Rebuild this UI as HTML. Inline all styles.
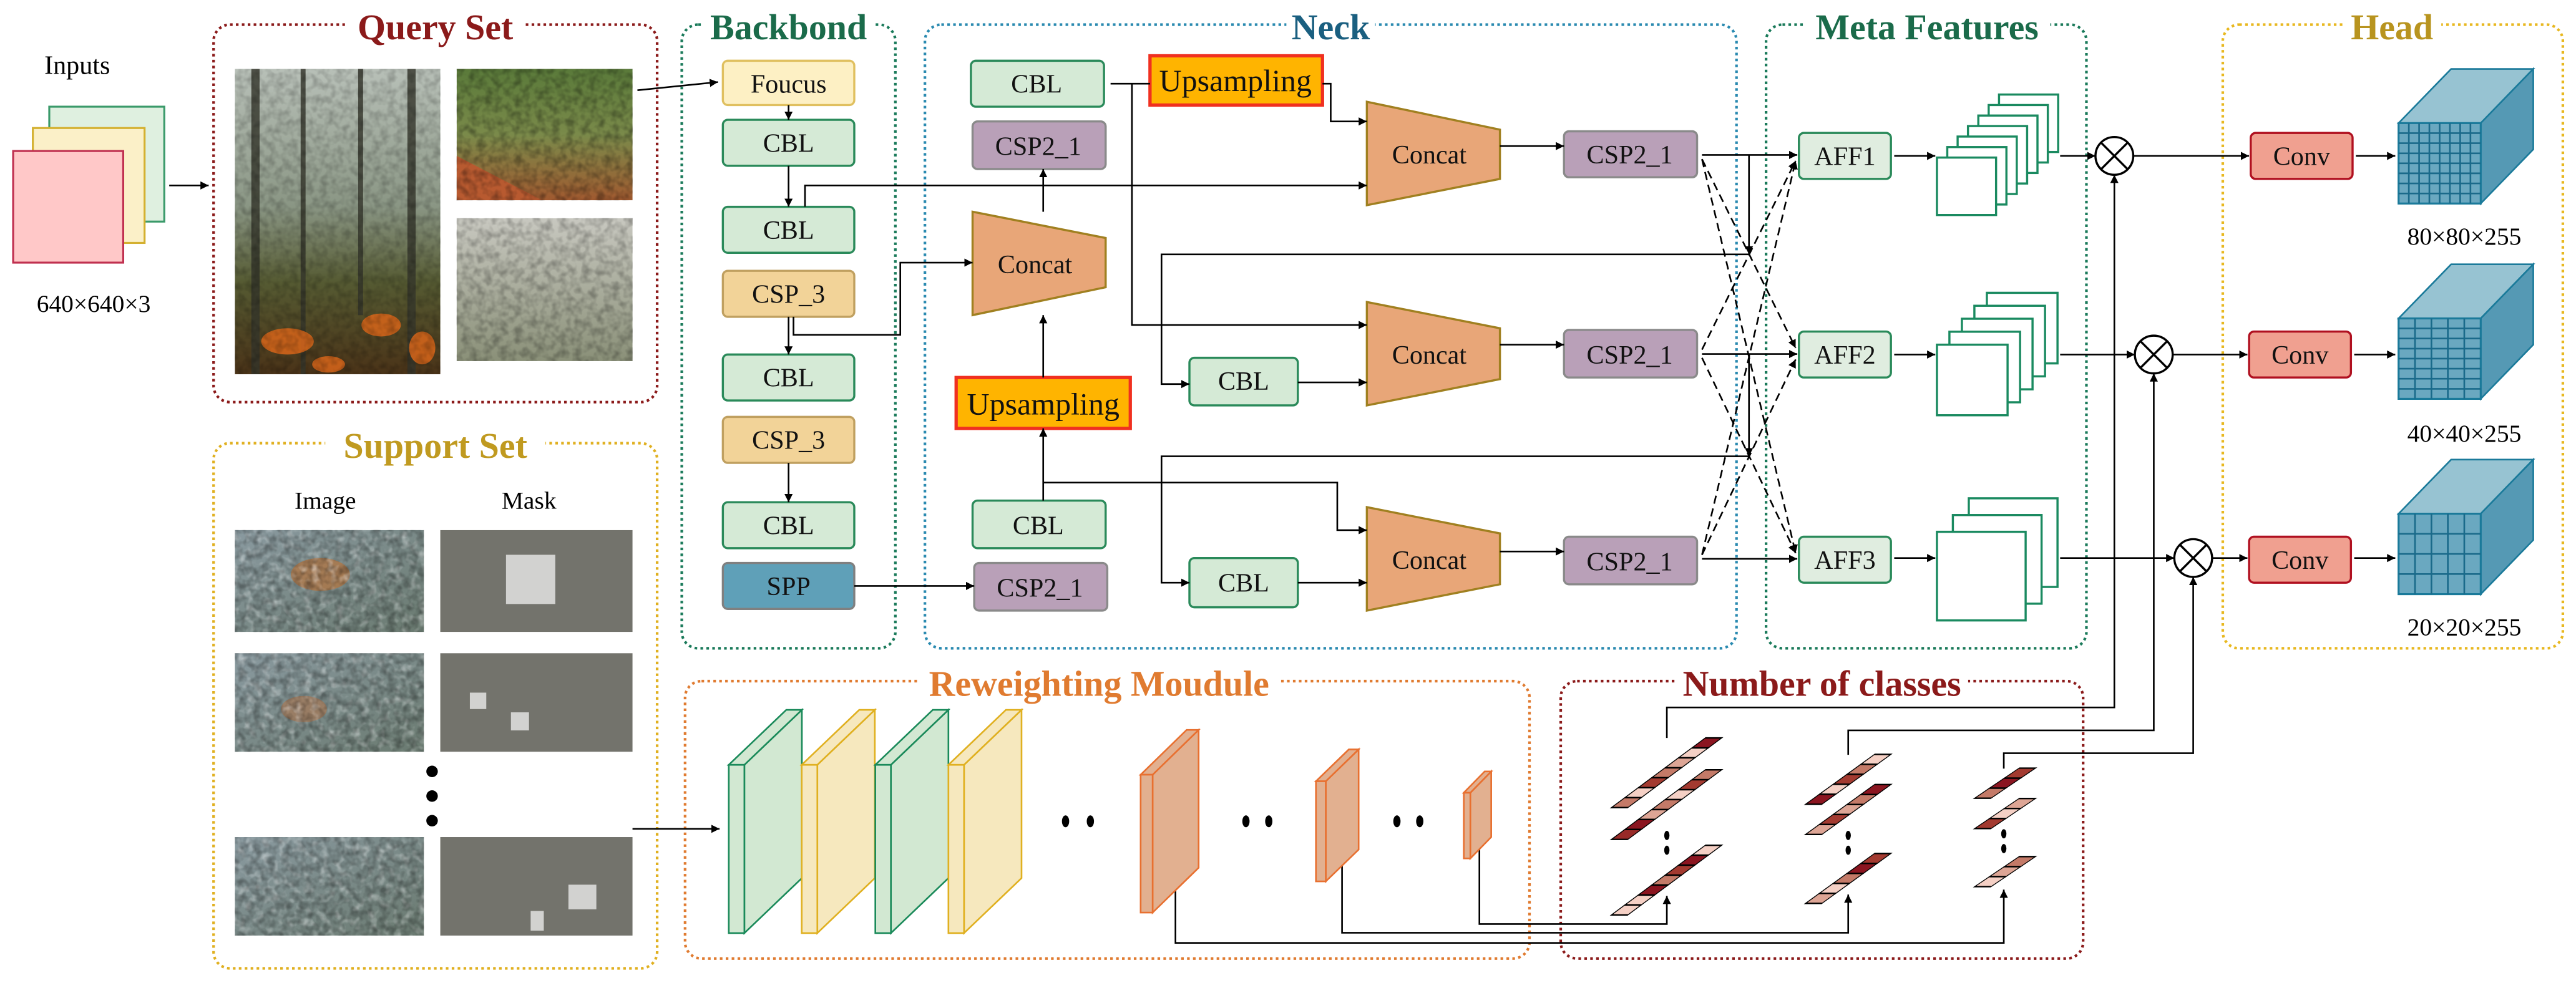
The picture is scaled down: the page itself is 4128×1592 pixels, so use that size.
<!DOCTYPE html>
<html><head><meta charset="utf-8">
<style>
html,body{margin:0;padding:0;background:#fff;}
svg{display:block;}
text{font-family:"Liberation Serif",serif;}
.lb{font-family:"Liberation Serif",serif;font-size:16px;text-anchor:middle;fill:#111;}
.tt{font-family:"Liberation Serif",serif;font-size:22px;font-weight:bold;text-anchor:middle;}
.sm{font-family:"Liberation Serif",serif;font-size:15px;text-anchor:middle;}
</style></head>
<body>
<svg xmlns="http://www.w3.org/2000/svg" width="4128" height="1592" viewBox="0 0 1568 605" preserveAspectRatio="none" font-family="Liberation Serif, serif">
<defs>
<marker id="a" viewBox="0 0 10 10" refX="10" refY="5" markerWidth="5" markerHeight="5" markerUnits="userSpaceOnUse" orient="auto"><path d="M0,0L10,5L0,10z" fill="#000"/></marker>
<filter id="nz" x="0" y="0" width="100%" height="100%">
<feTurbulence type="fractalNoise" baseFrequency="0.22" numOctaves="2" seed="3"/>
<feColorMatrix type="matrix" values="0 0 0 0 0  0 0 0 0 0  0 0 0 0 0  0 0 0 -2.2 1.4"/>
</filter>
<filter id="nzw" x="0" y="0" width="100%" height="100%">
<feTurbulence type="fractalNoise" baseFrequency="0.2" numOctaves="2" seed="9"/>
<feColorMatrix type="matrix" values="0 0 0 0 1  0 0 0 0 1  0 0 0 0 1  0 0 0 -2.5 1.3"/>
</filter>
<linearGradient id="gF" x1="0" y1="0" x2="0" y2="1">
<stop offset="0" stop-color="#b8c0b8"/><stop offset="0.45" stop-color="#8a9684"/><stop offset="0.7" stop-color="#555a32"/><stop offset="1" stop-color="#4a3318"/>
</linearGradient>
<linearGradient id="gS1" x1="0" y1="0" x2="0" y2="1">
<stop offset="0" stop-color="#5a7a3a"/><stop offset="0.5" stop-color="#7a8a4a"/><stop offset="1" stop-color="#a05a30"/>
</linearGradient>
<linearGradient id="gS2" x1="0" y1="0" x2="0" y2="1">
<stop offset="0" stop-color="#c8c8c0"/><stop offset="1" stop-color="#8a9078"/>
</linearGradient>
<linearGradient id="gB" x1="0" y1="0" x2="1" y2="1">
<stop offset="0" stop-color="#8a9aa0"/><stop offset="1" stop-color="#6a7a70"/>
</linearGradient>
</defs>
<rect width="1568" height="605" fill="#fff"/>

<!-- Inputs -->
<text class="sm" x="47" y="45" style="font-size:16px">Inputs</text>
<rect x="30" y="65" width="70" height="70" fill="#dff0e0" stroke="#3a9a6a" stroke-width="1.2"/>
<rect x="20" y="78" width="68" height="70" fill="#fbf0c8" stroke="#d4b030" stroke-width="1.2"/>
<rect x="8" y="92" width="67" height="68" fill="#ffc8c8" stroke="#c03050" stroke-width="1.2"/>
<text class="sm" x="57" y="190">640×640×3</text>
<line x1="103" y1="113" x2="127" y2="113" stroke="#000" marker-end="url(#a)"/>

<!-- Group boxes -->
<g fill="none" stroke-width="1.6" stroke-dasharray="1.6 2">
<rect x="130" y="15" width="270" height="230" rx="10" stroke="#8b1a1a"/>
<rect x="130" y="270" width="270" height="320" rx="10" stroke="#e0b020"/>
<rect x="415" y="15" width="130" height="380" rx="10" stroke="#1a7a5a"/>
<rect x="563" y="15" width="494" height="380" rx="10" stroke="#2a8ab0"/>
<rect x="1075" y="15" width="195" height="380" rx="10" stroke="#1a7a5a"/>
<rect x="1353" y="15" width="207" height="380" rx="10" stroke="#e8b820"/>
<rect x="417" y="415" width="514" height="169" rx="10" stroke="#e07b30"/>
<rect x="950" y="415" width="318" height="169" rx="10" stroke="#8b1a1a"/>
</g>
<g fill="#fff">
<rect x="210" y="3" width="110" height="24"/>
<rect x="198" y="258" width="134" height="24"/>
<rect x="428" y="3" width="104" height="24"/>
<rect x="783" y="3" width="54" height="24"/>
<rect x="1098" y="3" width="150" height="24"/>
<rect x="1426" y="3" width="60" height="24"/>
<rect x="560" y="403" width="218" height="24"/>
<rect x="1020" y="403" width="178" height="24"/>
</g>
<text class="tt" x="265" y="24" fill="#8b1a1a">Query Set</text>
<text class="tt" x="265" y="279" fill="#c09a20">Support Set</text>
<text class="tt" x="480" y="24" fill="#1a6b4a">Backbond</text>
<text class="tt" x="810" y="24" fill="#1a5f80">Neck</text>
<text class="tt" x="1173" y="24" fill="#1a6b4a">Meta Features</text>
<text class="tt" x="1456" y="24" fill="#b8941f">Head</text>
<text class="tt" x="669" y="424" fill="#e07b30">Reweighting Moudule</text>
<text class="tt" x="1109" y="424" fill="#8b1a1a">Number of classes</text>

<!-- Query images -->
<rect x="143" y="42" width="125" height="186" fill="url(#gF)"/>
<g fill="#33342a" opacity="0.8">
<rect x="153" y="42" width="5" height="186"/><rect x="183" y="42" width="3" height="186"/>
<rect x="218" y="42" width="3" height="150"/><rect x="248" y="42" width="5" height="186"/>
</g>
<g fill="#d8661a" opacity="0.85">
<ellipse cx="175" cy="208" rx="16" ry="8"/><ellipse cx="232" cy="198" rx="12" ry="7"/><ellipse cx="257" cy="212" rx="8" ry="10"/><ellipse cx="200" cy="222" rx="10" ry="5"/>
</g>
<rect x="143" y="42" width="125" height="186" filter="url(#nz)" opacity="0.2"/>
<rect x="278" y="42" width="107" height="80" fill="url(#gS1)"/>
<polygon points="278,95 330,122 278,122" fill="#b85a30"/>
<rect x="278" y="42" width="107" height="80" filter="url(#nz)" opacity="0.3"/>
<rect x="278" y="133" width="107" height="87" fill="url(#gS2)"/>
<rect x="278" y="133" width="107" height="87" filter="url(#nz)" opacity="0.25"/>

<!-- Support images -->
<rect x="143" y="323" width="115" height="62" fill="url(#gB)"/>
<ellipse cx="195" cy="350" rx="18" ry="10" fill="#c07030" opacity="0.6"/>
<rect x="143" y="323" width="115" height="62" filter="url(#nzw)" opacity="0.4"/>
<rect x="143" y="323" width="115" height="62" filter="url(#nz)" opacity="0.3"/>
<rect x="143" y="398" width="115" height="60" fill="url(#gB)"/>
<ellipse cx="185" cy="432" rx="14" ry="8" fill="#b87040" opacity="0.5"/>
<rect x="143" y="398" width="115" height="60" filter="url(#nzw)" opacity="0.4"/>
<rect x="143" y="398" width="115" height="60" filter="url(#nz)" opacity="0.3"/>
<rect x="143" y="510" width="115" height="60" fill="url(#gB)"/>
<rect x="143" y="510" width="115" height="60" filter="url(#nzw)" opacity="0.4"/>
<rect x="143" y="510" width="115" height="60" filter="url(#nz)" opacity="0.3"/>

<text class="sm" x="198" y="310">Image</text>
<text class="sm" x="322" y="310">Mask</text>
<rect x="268" y="323" width="117" height="62" fill="#73736c"/>
<rect x="308" y="338" width="30" height="30" fill="#d2d2d0"/>
<rect x="268" y="398" width="117" height="60" fill="#73736c"/>
<rect x="286" y="422" width="10" height="10" fill="#d2d2d0"/>
<rect x="311" y="434" width="11" height="11" fill="#d2d2d0"/>
<rect x="268" y="510" width="117" height="60" fill="#73736c"/>
<rect x="346" y="539" width="17" height="15" fill="#d2d2d0"/>
<rect x="323" y="555" width="8" height="12" fill="#d2d2d0"/>
<circle cx="263" cy="470" r="3.5" fill="#000"/>
<circle cx="263" cy="485" r="3.5" fill="#000"/>
<circle cx="263" cy="500" r="3.5" fill="#000"/>
<polyline points="388,55 437,50" fill="none" stroke="#000" marker-end="url(#a)"/>
<line x1="385" y1="505" x2="438" y2="505" stroke="#000" marker-end="url(#a)"/>

<!-- Backbond -->
<g stroke-width="1.3">
<rect x="440" y="37" width="80" height="27" rx="3" fill="#fdf0c4" stroke="#e0c060"/>
<rect x="440" y="73" width="80" height="28" rx="3" fill="#d5ead6" stroke="#2a8a5a"/>
<rect x="440" y="126" width="80" height="28" rx="3" fill="#d5ead6" stroke="#2a8a5a"/>
<rect x="440" y="165" width="80" height="28" rx="3" fill="#f2d398" stroke="#c0a060"/>
<rect x="440" y="216" width="80" height="28" rx="3" fill="#d5ead6" stroke="#2a8a5a"/>
<rect x="440" y="254" width="80" height="28" rx="3" fill="#f2d398" stroke="#c0a060"/>
<rect x="440" y="306" width="80" height="28" rx="3" fill="#d5ead6" stroke="#2a8a5a"/>
<rect x="440" y="343" width="80" height="28" rx="3" fill="#5fa0b8" stroke="#808080"/>
</g>
<g font-family="Liberation Serif, serif" font-size="16" text-anchor="middle" fill="#111">
<text x="480" y="56.5" style="font-family:'Liberation Serif',serif">Foucus</text>
<text x="480" y="92.5" style="font-family:'Liberation Serif',serif">CBL</text>
<text x="480" y="145.5" style="font-family:'Liberation Serif',serif">CBL</text>
<text x="480" y="184.5" style="font-family:'Liberation Serif',serif">CSP_3</text>
<text x="480" y="235.5" style="font-family:'Liberation Serif',serif">CBL</text>
<text x="480" y="273.5" style="font-family:'Liberation Serif',serif">CSP_3</text>
<text x="480" y="325.5" style="font-family:'Liberation Serif',serif">CBL</text>
<text x="480" y="362.5" style="font-family:'Liberation Serif',serif">SPP</text>
</g>

<!-- Neck -->
<g stroke-width="1.3">
<rect x="591" y="37" width="81" height="28" rx="3" fill="#d5ead6" stroke="#2a8a5a"/>
<rect x="592" y="74" width="81" height="29" rx="3" fill="#b9a0b8" stroke="#8a8a8a"/>
<rect x="700" y="34" width="105" height="30" fill="#ffb400" stroke="#f03020" stroke-width="2"/>
<polygon points="592,129 673,145 673,175 592,192" fill="#e8a678" stroke="#a08020"/>
<rect x="582" y="230" width="106" height="31" fill="#ffb400" stroke="#f03020" stroke-width="2"/>
<rect x="592" y="305" width="81" height="29" rx="3" fill="#d5ead6" stroke="#2a8a5a"/>
<rect x="593" y="343" width="81" height="29" rx="3" fill="#b9a0b8" stroke="#8a8a8a"/>
<polygon points="832,62 913,79 913,109 832,125" fill="#e8a678" stroke="#a08020"/>
<polygon points="832,184 913,200 913,231 832,247" fill="#e8a678" stroke="#a08020"/>
<polygon points="832,309 913,325 913,356 832,372" fill="#e8a678" stroke="#a08020"/>
<rect x="952" y="80" width="81" height="28" rx="3" fill="#b9a0b8" stroke="#8a8a8a"/>
<rect x="952" y="201" width="81" height="29" rx="3" fill="#b9a0b8" stroke="#8a8a8a"/>
<rect x="952" y="327" width="81" height="29" rx="3" fill="#b9a0b8" stroke="#8a8a8a"/>
<rect x="724" y="218" width="66" height="29" rx="3" fill="#d5ead6" stroke="#2a8a5a"/>
<rect x="724" y="340" width="66" height="30" rx="3" fill="#d5ead6" stroke="#2a8a5a"/>
</g>
<g font-family="Liberation Serif, serif" font-size="16" text-anchor="middle" fill="#111">
<text x="631" y="56.5" style="font-family:'Liberation Serif',serif">CBL</text>
<text x="632" y="94.5" style="font-family:'Liberation Serif',serif">CSP2_1</text>
<text x="752" y="55.5" style="font-family:'Liberation Serif',serif;font-size:19px">Upsampling</text>
<text x="630" y="166.5" style="font-family:'Liberation Serif',serif">Concat</text>
<text x="635" y="252.5" style="font-family:'Liberation Serif',serif;font-size:19px">Upsampling</text>
<text x="632" y="325.5" style="font-family:'Liberation Serif',serif">CBL</text>
<text x="633" y="363.5" style="font-family:'Liberation Serif',serif">CSP2_1</text>
<text x="870" y="99.5" style="font-family:'Liberation Serif',serif">Concat</text>
<text x="870" y="221.5" style="font-family:'Liberation Serif',serif">Concat</text>
<text x="870" y="346.5" style="font-family:'Liberation Serif',serif">Concat</text>
<text x="992" y="99.5" style="font-family:'Liberation Serif',serif">CSP2_1</text>
<text x="992" y="221.5" style="font-family:'Liberation Serif',serif">CSP2_1</text>
<text x="992" y="347.5" style="font-family:'Liberation Serif',serif">CSP2_1</text>
<text x="757" y="237.5" style="font-family:'Liberation Serif',serif">CBL</text>
<text x="757" y="360.5" style="font-family:'Liberation Serif',serif">CBL</text>
</g>

<!-- Meta -->
<g stroke-width="1.3">
<rect x="1095" y="81" width="56" height="28" rx="3" fill="#e0ede0" stroke="#2a8a5a"/>
<rect x="1095" y="202" width="56" height="28" rx="3" fill="#e0ede0" stroke="#2a8a5a"/>
<rect x="1095" y="327" width="56" height="28" rx="3" fill="#e0ede0" stroke="#2a8a5a"/>
</g>
<g font-family="Liberation Serif, serif" font-size="16" text-anchor="middle" fill="#111">
<text x="1123" y="100.5" style="font-family:'Liberation Serif',serif">AFF1</text>
<text x="1123" y="221.5" style="font-family:'Liberation Serif',serif">AFF2</text>
<text x="1123" y="346.5" style="font-family:'Liberation Serif',serif">AFF3</text>
</g>
<g fill="#fff" stroke="#1a8a60" stroke-width="1.3">
<rect x="1216.8" y="57.6" width="36" height="35"/><rect x="1210.5" y="64" width="36" height="35"/>
<rect x="1204.2" y="70.4" width="36" height="35"/><rect x="1197.9" y="76.8" width="36" height="35"/>
<rect x="1191.6" y="83.2" width="36" height="35"/><rect x="1185.3" y="89.6" width="36" height="35"/>
<rect x="1179" y="96" width="36" height="35"/>
<rect x="1209.4" y="178.4" width="43" height="43"/><rect x="1201.8" y="186.3" width="43" height="43"/>
<rect x="1194.2" y="194.2" width="43" height="43"/><rect x="1186.6" y="202.1" width="43" height="43"/>
<rect x="1179" y="210" width="43" height="43"/>
<rect x="1198.4" y="303.6" width="54" height="54"/><rect x="1188.7" y="313.8" width="54" height="54"/>
<rect x="1179" y="324" width="54" height="54"/>
</g>

<!-- Head -->
<g stroke-width="1.3">
<rect x="1370" y="81" width="62" height="28" rx="3" fill="#f0a090" stroke="#b01020"/>
<rect x="1369" y="202" width="62" height="28" rx="3" fill="#f0a090" stroke="#b01020"/>
<rect x="1369" y="327" width="62" height="28" rx="3" fill="#f0a090" stroke="#b01020"/>
</g>
<g font-family="Liberation Serif, serif" font-size="16" text-anchor="middle" fill="#111">
<text x="1401" y="100.5" style="font-family:'Liberation Serif',serif">Conv</text>
<text x="1400" y="221.5" style="font-family:'Liberation Serif',serif">Conv</text>
<text x="1400" y="346.5" style="font-family:'Liberation Serif',serif">Conv</text>
</g>
<g stroke="#1a7a9a" stroke-width="1">
<polygon points="1460,75 1492,42 1542,42 1510,75" fill="#97c3d2"/>
<polygon points="1510,75 1542,42 1542,91 1510,124" fill="#5599b4"/>
<rect x="1460" y="75" width="50" height="49" fill="#6aa8c0" stroke-width="1.2"/>
<polygon points="1460,194 1492,161 1542,161 1510,194" fill="#97c3d2"/>
<polygon points="1510,194 1542,161 1542,210 1510,243" fill="#5599b4"/>
<rect x="1460" y="194" width="50" height="49" fill="#6aa8c0" stroke-width="1.2"/>
<polygon points="1460,313 1492,280 1542,280 1510,313" fill="#97c3d2"/>
<polygon points="1510,313 1542,280 1542,329 1510,362" fill="#5599b4"/>
<rect x="1460" y="313" width="50" height="49" fill="#6aa8c0" stroke-width="1.2"/>
</g>
<g stroke="#1a6a8a" stroke-width="1" fill="none">
<path d="M1466.25,75V124M1472.5,75V124M1478.75,75V124M1485,75V124M1491.25,75V124M1497.5,75V124M1503.75,75V124M1460,81.1H1510M1460,87.25H1510M1460,93.4H1510M1460,99.5H1510M1460,105.6H1510M1460,111.75H1510M1460,117.9H1510"/>
<path d="M1470,194V243M1480,194V243M1490,194V243M1500,194V243M1460,200.1H1510M1460,206.25H1510M1460,212.4H1510M1460,218.5H1510M1460,224.6H1510M1460,230.75H1510M1460,236.9H1510"/>
<path d="M1470,313V362M1480,313V362M1490,313V362M1500,313V362M1460,325.25H1510M1460,337.5H1510M1460,349.75H1510"/>
</g>
<text class="sm" x="1500" y="149">80×80×255</text>
<text class="sm" x="1500" y="269">40×40×255</text>
<text class="sm" x="1500" y="387">20×20×255</text>

<!-- circles -->
<g fill="#fff" stroke="#000" stroke-width="1.3">
<circle cx="1287" cy="95" r="11.5"/><circle cx="1311" cy="216" r="11.5"/><circle cx="1335" cy="340" r="11.5"/>
</g>
<g stroke="#000" stroke-width="1.3">
<path d="M1279,87L1295,103M1295,87L1279,103M1303,208L1319,224M1319,208L1303,224M1327,332L1343,348M1343,332L1327,348"/>
</g>

<!-- connectors -->
<g fill="none" stroke="#000" stroke-width="1">
<line x1="480" y1="64" x2="480" y2="73" marker-end="url(#a)"/>
<line x1="480" y1="101" x2="480" y2="126" marker-end="url(#a)"/>
<line x1="480" y1="193" x2="480" y2="216" marker-end="url(#a)"/>
<line x1="480" y1="282" x2="480" y2="306" marker-end="url(#a)"/>
<polyline points="490,126 490,113 832,113" marker-end="url(#a)"/>
<polyline points="483,193 483,204 548,204 548,160 592,160" marker-end="url(#a)"/>
<line x1="520" y1="357" x2="593" y2="357" marker-end="url(#a)"/>
<line x1="676" y1="51" x2="700" y2="51"/>
<polyline points="689,51 689,198 832,198" marker-end="url(#a)"/>
<polyline points="805,51 810,51 810,74 832,74" marker-end="url(#a)"/>
<line x1="635" y1="129" x2="635" y2="103" marker-end="url(#a)"/>
<line x1="635" y1="230" x2="635" y2="192" marker-end="url(#a)"/>
<line x1="635" y1="305" x2="635" y2="261" marker-end="url(#a)"/>
<polyline points="635,294 814,294 814,323 832,323" marker-end="url(#a)"/>
<polyline points="1064.6,155 707,155 707,234 724,234" marker-end="url(#a)"/>
<polyline points="1064.6,278 707,278 707,355 724,355" marker-end="url(#a)"/>
<line x1="790" y1="233" x2="832" y2="233" marker-end="url(#a)"/>
<line x1="790" y1="355" x2="832" y2="355" marker-end="url(#a)"/>
<line x1="913" y1="89" x2="952" y2="89" marker-end="url(#a)"/>
<line x1="913" y1="210" x2="952" y2="210" marker-end="url(#a)"/>
<line x1="913" y1="336" x2="952" y2="336" marker-end="url(#a)"/>
<line x1="1036" y1="94.4" x2="1094" y2="94.4" marker-end="url(#a)"/>
<line x1="1036" y1="215.7" x2="1094" y2="215.7" marker-end="url(#a)"/>
<line x1="1036" y1="340.5" x2="1094" y2="340.5" marker-end="url(#a)"/>
<line x1="1064.6" y1="94.4" x2="1064.6" y2="155" marker-end="url(#a)"/>
<line x1="1064.6" y1="215.7" x2="1064.6" y2="278" marker-end="url(#a)"/>
<g stroke-dasharray="5 3">
<line x1="1036" y1="97" x2="1093" y2="212" marker-end="url(#a)"/>
<line x1="1036" y1="97" x2="1093" y2="337" marker-end="url(#a)"/>
<line x1="1036" y1="213" x2="1093" y2="98" marker-end="url(#a)"/>
<line x1="1036" y1="218" x2="1093" y2="337" marker-end="url(#a)"/>
<line x1="1036" y1="338" x2="1093" y2="98" marker-end="url(#a)"/>
<line x1="1036" y1="338" x2="1093" y2="219" marker-end="url(#a)"/>
</g>
<line x1="1153" y1="95" x2="1178" y2="95" marker-end="url(#a)"/>
<line x1="1153" y1="216" x2="1178" y2="216" marker-end="url(#a)"/>
<line x1="1153" y1="340" x2="1178" y2="340" marker-end="url(#a)"/>
<line x1="1254" y1="95" x2="1275.5" y2="95" marker-end="url(#a)"/>
<line x1="1254" y1="216" x2="1299.5" y2="216" marker-end="url(#a)"/>
<line x1="1254" y1="340" x2="1323.5" y2="340" marker-end="url(#a)"/>
<line x1="1298.5" y1="95" x2="1369" y2="95" marker-end="url(#a)"/>
<line x1="1322.5" y1="216" x2="1368" y2="216" marker-end="url(#a)"/>
<line x1="1346.5" y1="340" x2="1368" y2="340" marker-end="url(#a)"/>
<line x1="1434" y1="95" x2="1458" y2="95" marker-end="url(#a)"/>
<line x1="1433" y1="216" x2="1458" y2="216" marker-end="url(#a)"/>
<line x1="1433" y1="340" x2="1458" y2="340" marker-end="url(#a)"/>
<polyline points="1014.6,449.6 1014.6,431 1287,431 1287,106.5" marker-end="url(#a)"/>
<polyline points="1125,459.9 1125,445 1311,445 1311,227.5" marker-end="url(#a)"/>
<polyline points="1219.7,468.3 1219.7,458.9 1335,458.9 1335,351.5" marker-end="url(#a)"/>
<polyline points="715.5,542 715.5,574.5 1219.7,574.5 1219.7,542" marker-end="url(#a)"/>
<polyline points="816.9,527.7 816.9,568.3 1125,568.3 1125,545" marker-end="url(#a)"/>
<polyline points="900.5,516.8 900.5,563 1014.6,563 1014.6,545.8" marker-end="url(#a)"/>
</g>

<!-- reweighting slabs -->
<g stroke-width="1">
<g fill="#d2e8d2" stroke="#1a8a5a">
<polygon points="453.1,466 488.1,432.5 488.1,535 453.1,568.5"/><polygon points="443.6,466 478.6,432.5 488.1,432.5 453.1,466"/><rect x="443.6" y="466" width="9.5" height="102.5"/>
</g>
<g fill="#f6e8be" stroke="#e0b020">
<polygon points="497.5,466 532.5,432.5 532.5,535 497.5,568.5"/><polygon points="488,466 523,432.5 532.5,432.5 497.5,466"/><rect x="488" y="466" width="9.5" height="102.5"/>
</g>
<g fill="#d2e8d2" stroke="#1a8a5a">
<polygon points="542.3,466 577.3,432.5 577.3,535 542.3,568.5"/><polygon points="532.8,466 567.8,432.5 577.3,432.5 542.3,466"/><rect x="532.8" y="466" width="9.5" height="102.5"/>
</g>
<g fill="#f6e8be" stroke="#e0b020">
<polygon points="586.8,466 621.8,432.5 621.8,535 586.8,568.5"/><polygon points="577.3,466 612.3,432.5 621.8,432.5 586.8,466"/><rect x="577.3" y="466" width="9.5" height="102.5"/>
</g>
<g fill="#e2b090" stroke="#e87030">
<polygon points="701.6,472 729.6,444.7 729.6,528.7 701.6,556"/><polygon points="694.3,472 722.3,444.7 729.6,444.7 701.6,472"/><rect x="694.3" y="472" width="7.3" height="84"/>
<polygon points="807,476 827,456.6 827,517.6 807,537"/><polygon points="801,476 821,456.6 827,456.6 807,476"/><rect x="801" y="476" width="6" height="61"/>
<polygon points="895,483 907.7,470 907.7,510 895,523"/><polygon points="891,483 903.7,470 907.7,470 895,483"/><rect x="891" y="483" width="4" height="40"/>
</g>
</g>
<g fill="#000">
<ellipse cx="648.6" cy="500.4" rx="2.2" ry="3.6"/><ellipse cx="663.7" cy="500.4" rx="2.2" ry="3.6"/>
<ellipse cx="758.4" cy="500.4" rx="2.2" ry="3.6"/><ellipse cx="772.3" cy="500.4" rx="2.2" ry="3.6"/>
<ellipse cx="850.3" cy="500.4" rx="2.2" ry="3.6"/><ellipse cx="864.2" cy="500.4" rx="2.2" ry="3.6"/>
<ellipse cx="1014.6" cy="509" rx="1.6" ry="2.8"/><ellipse cx="1014.6" cy="518" rx="1.6" ry="2.8"/>
<ellipse cx="1125" cy="509" rx="1.6" ry="2.8"/><ellipse cx="1125" cy="518" rx="1.6" ry="2.8"/>
<ellipse cx="1219.7" cy="508" rx="1.6" ry="2.8"/><ellipse cx="1219.7" cy="517" rx="1.6" ry="2.8"/>
</g>

<!-- class bars -->
<g stroke="#000" stroke-width="0.9">
<g transform="translate(1043,449.6) skewX(-53.4)">
<rect x="-5" y="0" width="10" height="6.06" fill="#8b1520"/><rect x="-5" y="6.06" width="10" height="6.06" fill="#f5d0c5"/><rect x="-5" y="12.12" width="10" height="6.06" fill="#dda595"/><rect x="-5" y="18.18" width="10" height="6.06" fill="#c47a68"/><rect x="-5" y="24.24" width="10" height="6.06" fill="#a33a30"/><rect x="-5" y="30.3" width="10" height="6.06" fill="#f5d0c5"/><rect x="-5" y="36.36" width="10" height="6.06" fill="#c47a68"/>
</g>
<g transform="translate(1043,469) skewX(-53.4)">
<rect x="-5" y="0" width="10" height="6.06" fill="#c47a68"/><rect x="-5" y="6.06" width="10" height="6.06" fill="#a33a30"/><rect x="-5" y="12.12" width="10" height="6.06" fill="#f5d0c5"/><rect x="-5" y="18.18" width="10" height="6.06" fill="#c47a68"/><rect x="-5" y="24.24" width="10" height="6.06" fill="#dda595"/><rect x="-5" y="30.3" width="10" height="6.06" fill="#8b1520"/><rect x="-5" y="36.36" width="10" height="6.06" fill="#982a28"/>
</g>
<g transform="translate(1043,515) skewX(-53.4)">
<rect x="-5" y="0" width="10" height="6.06" fill="#f5d0c5"/><rect x="-5" y="6.06" width="10" height="6.06" fill="#8b1520"/><rect x="-5" y="12.12" width="10" height="6.06" fill="#a33a30"/><rect x="-5" y="18.18" width="10" height="6.06" fill="#c47a68"/><rect x="-5" y="24.24" width="10" height="6.06" fill="#8b1520"/><rect x="-5" y="30.3" width="10" height="6.06" fill="#f5d0c5"/><rect x="-5" y="36.36" width="10" height="6.06" fill="#f5d0c5"/>
</g>
<g transform="translate(1146,459.6) skewX(-54.1)">
<rect x="-5" y="0" width="10" height="6.08" fill="#f5d0c5"/><rect x="-5" y="6.08" width="10" height="6.08" fill="#c47a68"/><rect x="-5" y="12.16" width="10" height="6.08" fill="#a33a30"/><rect x="-5" y="18.24" width="10" height="6.08" fill="#f5d0c5"/><rect x="-5" y="24.32" width="10" height="6.08" fill="#8b1520"/>
</g>
<g transform="translate(1146,478) skewX(-54.1)">
<rect x="-5" y="0" width="10" height="6.08" fill="#8b1520"/><rect x="-5" y="6.08" width="10" height="6.08" fill="#c47a68"/><rect x="-5" y="12.16" width="10" height="6.08" fill="#dda595"/><rect x="-5" y="18.24" width="10" height="6.08" fill="#a33a30"/><rect x="-5" y="24.32" width="10" height="6.08" fill="#dda595"/>
</g>
<g transform="translate(1146,520) skewX(-54.1)">
<rect x="-5" y="0" width="10" height="6.08" fill="#a33a30"/><rect x="-5" y="6.08" width="10" height="6.08" fill="#8b1520"/><rect x="-5" y="12.16" width="10" height="6.08" fill="#c47a68"/><rect x="-5" y="18.24" width="10" height="6.08" fill="#f5d0c5"/><rect x="-5" y="24.32" width="10" height="6.08" fill="#dda595"/>
</g>
<g transform="translate(1234,468) skewX(-55.9)">
<rect x="-5" y="0" width="10" height="6.1" fill="#a33a30"/><rect x="-5" y="6.1" width="10" height="6.1" fill="#8b1520"/><rect x="-5" y="12.2" width="10" height="6.1" fill="#c47a68"/>
</g>
<g transform="translate(1234,486.5) skewX(-55.9)">
<rect x="-5" y="0" width="10" height="6.1" fill="#dda595"/><rect x="-5" y="6.1" width="10" height="6.1" fill="#f5d0c5"/><rect x="-5" y="12.2" width="10" height="6.1" fill="#a33a30"/>
</g>
<g transform="translate(1234,521.9) skewX(-55.9)">
<rect x="-5" y="0" width="10" height="6.1" fill="#c47a68"/><rect x="-5" y="6.1" width="10" height="6.1" fill="#dda595"/><rect x="-5" y="12.2" width="10" height="6.1" fill="#f5d0c5"/>
</g>
</g>
</svg>
</body></html>
